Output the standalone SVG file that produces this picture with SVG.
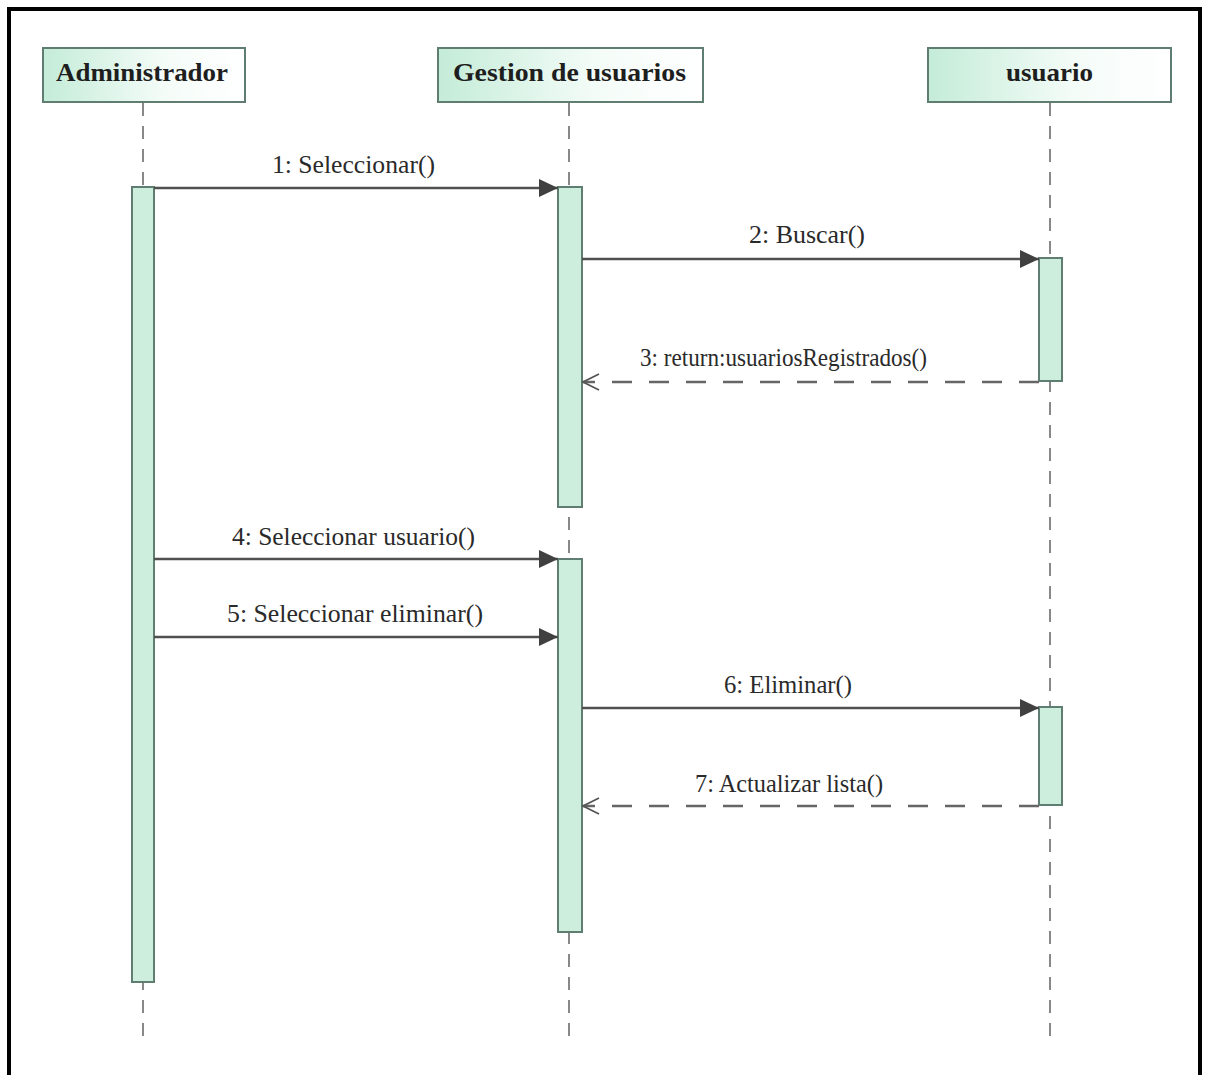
<svg xmlns="http://www.w3.org/2000/svg" width="1206" height="1075" viewBox="0 0 1206 1075">
  <defs>
    <linearGradient id="headFill" x1="0" y1="0" x2="1" y2="0">
      <stop offset="0" stop-color="#c4ecd8"/>
      <stop offset="0.6" stop-color="#f4fcf8"/>
      <stop offset="1" stop-color="#ffffff"/>
    </linearGradient>
    <marker id="solidHead" markerWidth="20" markerHeight="20" refX="19" refY="10" orient="auto" markerUnits="userSpaceOnUse">
      <path d="M0,1 L19,10 L0,19 Z" fill="#404040"/>
    </marker>
    <marker id="openHead" markerWidth="20" markerHeight="20" refX="18" refY="10" orient="auto" markerUnits="userSpaceOnUse">
      <path d="M2,2 L18,10 L2,18" fill="none" stroke="#555" stroke-width="1.8"/>
    </marker>
  </defs>
  <style>
    .frame { fill: #ffffff; stroke: #000000; stroke-width: 4; }
    .head { fill: url(#headFill); stroke: #5f7d70; stroke-width: 2; }
    .headText { font-family: "Liberation Serif", "Times New Roman", serif; font-weight: bold; font-size: 26px; fill: #1e1e1e; }
    .life { stroke: #6b6b6b; stroke-width: 1.6; stroke-dasharray: 13 10; fill: none; }
    .act { fill: #cdeedd; stroke: #5f7d70; stroke-width: 2; }
    .msg { stroke: #505050; stroke-width: 2.4; fill: none; }
    .ret { stroke: #666666; stroke-width: 2.6; stroke-dasharray: 20 17; fill: none; }
    .lbl { font-family: "Liberation Serif", "Times New Roman", serif; font-size: 25px; fill: #2a2a2a; }
  </style>

  <!-- outer frame -->
  <rect class="frame" x="9" y="9" width="1191" height="1080"/>

  <!-- lifelines -->
  <g id="lifelines">
    <line class="life" x1="143" y1="103" x2="143" y2="1046"/>
    <line class="life" x1="569" y1="103" x2="569" y2="1046"/>
    <line class="life" x1="1050" y1="103" x2="1050" y2="1046"/>
  </g>

  <!-- Administrador -->
  <g id="administrador">
    <rect class="head" x="43" y="48" width="202" height="54"/>
    <text class="headText" x="56" y="81" textLength="172" lengthAdjust="spacingAndGlyphs">Administrador</text>
    <rect class="act" x="132" y="187" width="22" height="795"/>
  </g>

  <!-- Gestion de usuarios -->
  <g id="gestion-usuarios">
    <rect class="head" x="438" y="48" width="265" height="54"/>
    <text class="headText" x="453" y="81" textLength="233" lengthAdjust="spacingAndGlyphs">Gestion de usuarios</text>
    <rect class="act" x="558" y="187" width="24" height="320"/>
    <rect class="act" x="558" y="559" width="24" height="373"/>
  </g>

  <!-- usuario -->
  <g id="usuario">
    <rect class="head" x="928" y="48" width="243" height="54"/>
    <text class="headText" x="1006" y="81" textLength="87" lengthAdjust="spacingAndGlyphs">usuario</text>
    <rect class="act" x="1039" y="258" width="23" height="123"/>
    <rect class="act" x="1039" y="707" width="23" height="98"/>
  </g>

  <!-- messages -->
  <g id="connectors">
    <line class="msg" x1="154" y1="188" x2="558" y2="188" marker-end="url(#solidHead)"/>
    <text class="lbl" x="272" y="173" textLength="163" lengthAdjust="spacingAndGlyphs">1: Seleccionar()</text>

    <line class="msg" x1="582" y1="259" x2="1039" y2="259" marker-end="url(#solidHead)"/>
    <text class="lbl" x="749" y="243" textLength="116" lengthAdjust="spacingAndGlyphs">2: Buscar()</text>

    <line class="ret" x1="1039" y1="382" x2="583" y2="382" marker-end="url(#openHead)"/>
    <text class="lbl" x="640" y="366" textLength="287" lengthAdjust="spacingAndGlyphs">3: return:usuariosRegistrados()</text>

    <line class="msg" x1="154" y1="559" x2="558" y2="559" marker-end="url(#solidHead)"/>
    <text class="lbl" x="232" y="545" textLength="243" lengthAdjust="spacingAndGlyphs">4: Seleccionar usuario()</text>

    <line class="msg" x1="154" y1="637" x2="558" y2="637" marker-end="url(#solidHead)"/>
    <text class="lbl" x="227" y="622" textLength="256" lengthAdjust="spacingAndGlyphs">5: Seleccionar eliminar()</text>

    <line class="msg" x1="582" y1="708" x2="1039" y2="708" marker-end="url(#solidHead)"/>
    <text class="lbl" x="724" y="693" textLength="128" lengthAdjust="spacingAndGlyphs">6: Eliminar()</text>

    <line class="ret" x1="1039" y1="806" x2="583" y2="806" marker-end="url(#openHead)"/>
    <text class="lbl" x="695" y="792" textLength="188" lengthAdjust="spacingAndGlyphs">7: Actualizar lista()</text>
  </g>
</svg>
